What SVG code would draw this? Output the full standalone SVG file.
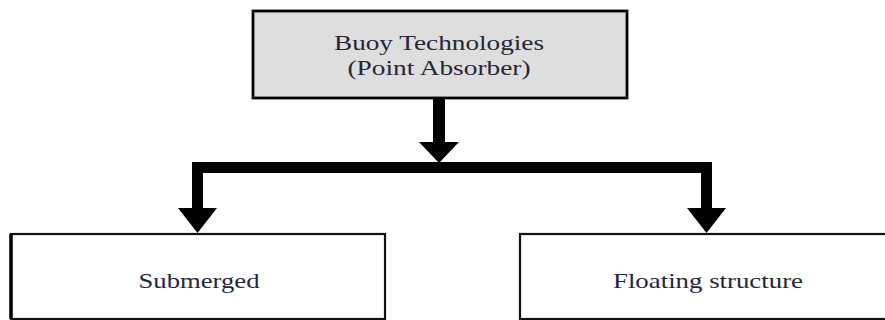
<svg xmlns="http://www.w3.org/2000/svg" width="885" height="320" viewBox="0 0 885 320">
<style>
.box{fill:#ffffff;stroke:#111;stroke-width:2.2}
.top{fill:#dedede;stroke:#000;stroke-width:2.8}
.lbl{font-family:"Liberation Serif","Times New Roman",serif;font-size:21px;fill:#262638;text-anchor:middle}
.wire{fill:none;stroke:#000;stroke-width:11;stroke-linejoin:miter}
.head{fill:#000}
</style>
<rect width="885" height="320" fill="#ffffff"/>
<g id="node-buoy">
<rect class="top" x="253" y="11" width="374" height="87"/>
<text class="lbl" x="439" y="49.5" textLength="210" lengthAdjust="spacingAndGlyphs">Buoy Technologies</text>
<text class="lbl" x="439" y="75" textLength="183" lengthAdjust="spacingAndGlyphs">(Point Absorber)</text>
</g>
<g id="node-submerged">
<rect class="box" x="11" y="234" width="374" height="85"/>
<line x1="11" y1="234" x2="11" y2="319" stroke="#000" stroke-width="3.5"/>
<text class="lbl" x="199" y="288" textLength="121" lengthAdjust="spacingAndGlyphs">Submerged</text>
</g>
<g id="node-floating">
<rect class="box" x="520" y="234" width="380" height="85"/>
<text class="lbl" x="708" y="288" textLength="190" lengthAdjust="spacingAndGlyphs">Floating structure</text>
</g>
<g id="connectors">
<line x1="439" y1="98" x2="439" y2="143" stroke="#000" stroke-width="12"/>
<polygon class="head" points="419,142 459,142 439,163"/>
<path class="wire" d="M197.5,209 V167.5 H706.5 V209"/>
<polygon class="head" points="178,208 217,208 197.5,233"/>
<polygon class="head" points="687,208 726,208 706.5,233"/>
</g>
</svg>
